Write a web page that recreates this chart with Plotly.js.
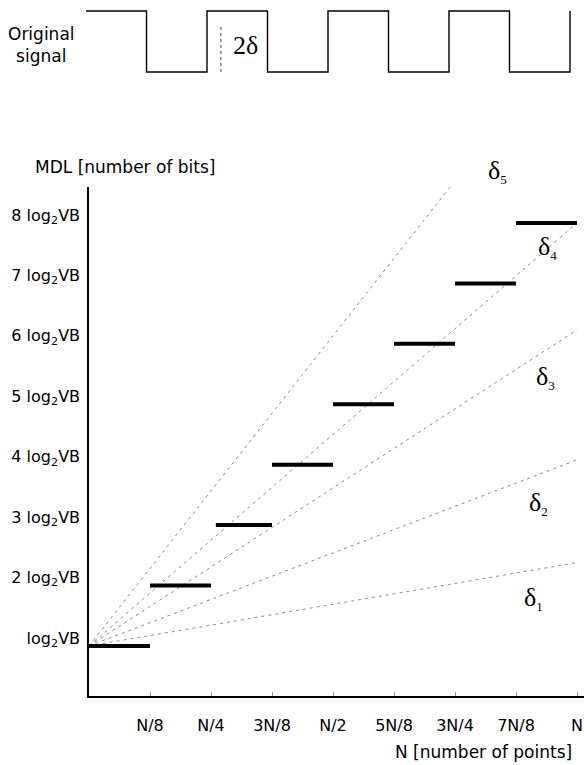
<!DOCTYPE html>
<html>
<head>
<meta charset="utf-8">
<script src="https://cdn.plot.ly/plotly-3.0.1.min.js"></script>
<style>html,body{margin:0;padding:0;background:#fff;}#chart{width:584px;height:765px;}</style>
</head>
<body>
<div id="chart"></div>
<script>
// ---- data ----
var xTickVals = [1, 2, 3, 4, 5, 6, 7, 8];
var xTickText = ['N/8', 'N/4', '3N/8', 'N/2', '5N/8', '3N/4', '7N/8', 'N'];
var yTickVals = [1, 2, 3, 4, 5, 6, 7, 8];
var yTickText = ['log<sub>2</sub>VB', '2 log<sub>2</sub>VB', '3 log<sub>2</sub>VB', '4 log<sub>2</sub>VB',
                 '5 log<sub>2</sub>VB', '6 log<sub>2</sub>VB', '7 log<sub>2</sub>VB', '8 log<sub>2</sub>VB'];

// MDL steps: each step spans [stepStart, stepEnd] at level stepLevel
var stepStart = [0, 1, 2.08, 3, 4, 5, 6, 7];
var stepEnd   = [1, 2, 3, 4, 5, 6, 7, 8];
var stepLevel = [1, 2, 3, 4, 5, 6, 7, 8];

// delta lines: start at (0,1), end at (deltaEndX, deltaEndY)
var deltaNames = ['δ1', 'δ2', 'δ3', 'δ4', 'δ5'];
var deltaStartX = 0, deltaStartY = 1;
var deltaEndX = [8, 8, 8, 8, 5.97];
var deltaEndY = [2.38, 4.08, 6.23, 8.0, 8.66];

// original square signal (x in half-periods, level 0/1)
var sigX = [0, 1, 1, 2, 2, 3, 3, 4, 4, 5, 5, 6, 6, 7, 7, 8, 8];
var sigY = [1, 1, 0, 0, 1, 1, 0, 0, 1, 1, 0, 0, 1, 1, 0, 0, 1];
var twoDeltaX = [2.23, 2.23];
var twoDeltaY = [0, 0.78];

// ---- build ----
var W = 584, H = 765;
function px(x) { return x / W; }
function py(y) { return 1 - y / H; }

var sx = [], sy = [];
for (var i = 0; i < stepLevel.length; i++) {
  sx.push(stepStart[i], stepEnd[i], null);
  sy.push(stepLevel[i], stepLevel[i], null);
}

var traces = [];
for (var k = 0; k < deltaNames.length; k++) {
  traces.push({
    x: [deltaStartX, deltaEndX[k]], y: [deltaStartY, deltaEndY[k]],
    mode: 'lines', name: deltaNames[k], xaxis: 'x', yaxis: 'y',
    line: {color: '#8a8a8a', width: 1, dash: '3px,4px'}, hoverinfo: 'skip'
  });
}
traces.push({
  x: sx, y: sy, mode: 'lines', xaxis: 'x', yaxis: 'y',
  line: {color: '#000', width: 4}, connectgaps: false, hoverinfo: 'skip'
});
traces.push({
  x: sigX, y: sigY, mode: 'lines', xaxis: 'x2', yaxis: 'y2',
  line: {color: '#000', width: 1.4}, hoverinfo: 'skip'
});
traces.push({
  x: twoDeltaX, y: twoDeltaY, mode: 'lines', xaxis: 'x2', yaxis: 'y2',
  line: {color: '#444', width: 1, dash: '3px,3px'}, hoverinfo: 'skip'
});

var sans = 'DejaVu Sans';
var serif = 'Liberation Serif';

var layout = {
  width: W, height: H,
  margin: {l: 0, r: 0, t: 0, b: 0},
  paper_bgcolor: '#fff', plot_bgcolor: '#fff',
  showlegend: false,
  xaxis: {
    domain: [89 / W, 1], range: [0, 495 / 61], anchor: 'y',
    showline: true, linecolor: '#000', linewidth: 1.5,
    showgrid: false, zeroline: false,
    tickmode: 'array', tickvals: xTickVals, ticktext: xTickText,
    ticks: 'inside', ticklen: 4, tickcolor: '#999', tickwidth: 1,
    ticklabelstandoff: 14,
    tickfont: {family: sans, size: 16, color: '#000'}
  },
  yaxis: {
    domain: [69 / H, 578 / H], range: [0.172, 8.595], anchor: 'x',
    showline: true, linecolor: '#000', linewidth: 1.5,
    showgrid: false, zeroline: false,
    tickmode: 'array', tickvals: yTickVals, ticktext: yTickText,
    ticks: '', ticklabelshift: -8, ticklabelstandoff: 4,
    tickfont: {family: sans, size: 16, color: '#000'}
  },
  xaxis2: {
    domain: [(86 - 6.05) / W, (570 + 6.05) / W], range: [-0.1, 8.1], anchor: 'y2',
    visible: false, showgrid: false, zeroline: false
  },
  yaxis2: {
    domain: [(H - 78.1) / H, (H - 4.9) / H], range: [-0.1, 1.1], anchor: 'x2',
    visible: false, showgrid: false, zeroline: false
  },
  annotations: [
    {text: 'Original<br>signal', x: px(41), y: py(45), xref: 'paper', yref: 'paper',
     xanchor: 'center', yanchor: 'middle', showarrow: false, align: 'center',
     font: {family: sans, size: 17, color: '#000'}},
    {text: '2δ', x: px(245), y: py(45), xref: 'paper', yref: 'paper',
     xanchor: 'center', yanchor: 'middle', showarrow: false,
     font: {family: serif, size: 26, color: '#000'}},
    {text: 'MDL [number of bits]', x: px(33), y: py(167), xref: 'paper', yref: 'paper',
     xanchor: 'left', yanchor: 'middle', showarrow: false,
     font: {family: sans, size: 17, color: '#000'}},
    {text: 'N [number of points]', x: px(574), y: py(752), xref: 'paper', yref: 'paper',
     xanchor: 'right', yanchor: 'middle', showarrow: false,
     font: {family: sans, size: 17, color: '#000'}},
    {text: 'δ<sub><span style="font-size:13px">5</span></sub>', x: px(497), y: py(172), xref: 'paper', yref: 'paper',
     xanchor: 'center', yanchor: 'middle', showarrow: false, font: {family: serif, size: 26, color: '#000'}},
    {text: 'δ<sub><span style="font-size:13px">4</span></sub>', x: px(547), y: py(248), xref: 'paper', yref: 'paper',
     xanchor: 'center', yanchor: 'middle', showarrow: false, font: {family: serif, size: 26, color: '#000'}},
    {text: 'δ<sub><span style="font-size:13px">3</span></sub>', x: px(545), y: py(377), xref: 'paper', yref: 'paper',
     xanchor: 'center', yanchor: 'middle', showarrow: false, font: {family: serif, size: 26, color: '#000'}},
    {text: 'δ<sub><span style="font-size:13px">2</span></sub>', x: px(538), y: py(503), xref: 'paper', yref: 'paper',
     xanchor: 'center', yanchor: 'middle', showarrow: false, font: {family: serif, size: 26, color: '#000'}},
    {text: 'δ<sub><span style="font-size:13px">1</span></sub>', x: px(533), y: py(598), xref: 'paper', yref: 'paper',
     xanchor: 'center', yanchor: 'middle', showarrow: false, font: {family: serif, size: 26, color: '#000'}}
  ]
};

Plotly.newPlot('chart', traces, layout, {displayModeBar: false});
</script>
</body>
</html>
